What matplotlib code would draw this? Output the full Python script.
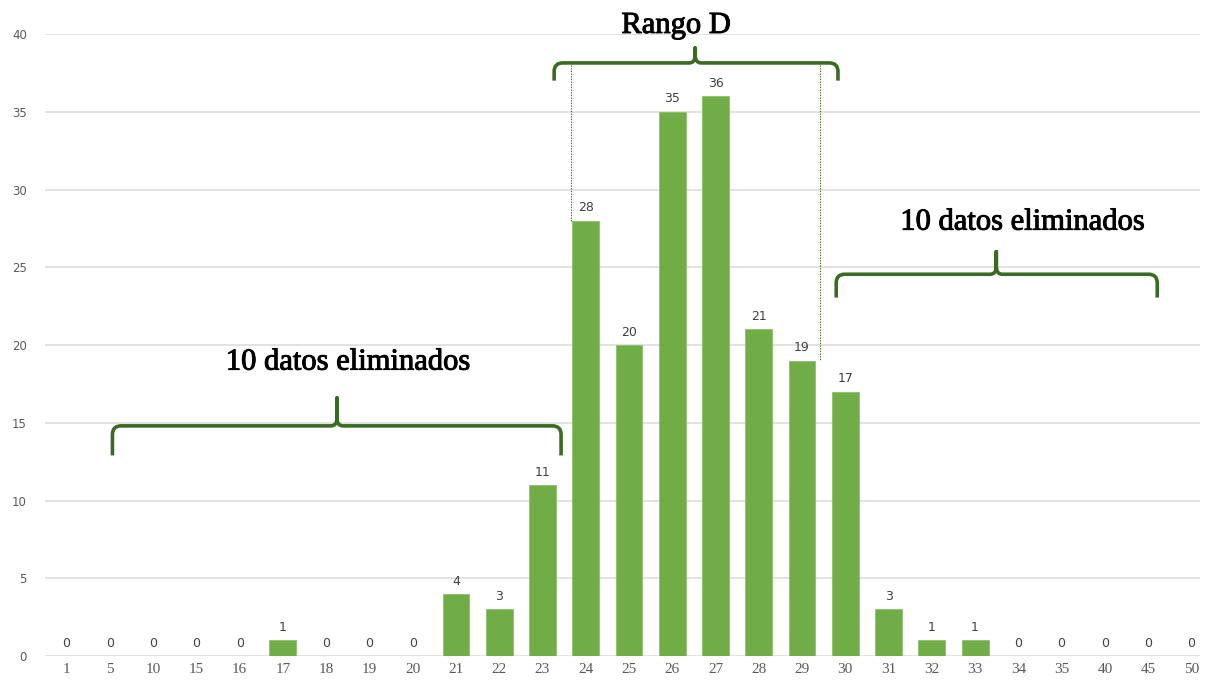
import matplotlib
matplotlib.use("Agg")
import matplotlib.pyplot as plt
import matplotlib.patheffects as pe
from matplotlib.path import Path
from matplotlib.patches import PathPatch

# Frequency of each class
categories = ["1", "5", "10", "15", "16", "17", "18", "19", "20", "21", "22", "23", "24",
              "25", "26", "27", "28", "29", "30", "31", "32", "33", "34", "35", "40", "45", "50"]
counts = [0, 0, 0, 0, 0, 1, 0, 0, 0, 4, 3, 11, 28, 20, 35, 36, 21, 19, 17, 3, 1, 1, 0, 0, 0, 0, 0]
y_ticks = [0, 5, 10, 15, 20, 25, 30, 35, 40]

range_label = "Rango D"
removed_label = "10 datos eliminados"

BAR_COLOR = "#70AD47"
BRACE_COLOR = "#3A6B22"
GRID_COLOR = "#DDDDDD"
BAR_WIDTH = 0.62

fig = plt.figure(figsize=(12.05, 6.84), dpi=100)
ax = fig.add_axes([0.0373, 0.0409, 0.9586, 0.9094])

x = list(range(len(categories)))
ax.bar(x, counts, width=BAR_WIDTH, color=BAR_COLOR, edgecolor="#8CC168",
       linewidth=0.6, zorder=3)

for xi, v in zip(x, counts):
    ax.annotate(str(v), (xi, v), xytext=(0, 4.5), textcoords="offset points",
                ha="center", va="bottom", fontsize=9, color="#404040",
                family="DejaVu Sans")

ax.set_xlim(-0.5, 26.2)
ax.set_ylim(0, 40)
ax.set_yticks(y_ticks)
ax.set_yticklabels([str(t) for t in y_ticks], fontsize=8.5, color="#595959",
                   family="DejaVu Sans")
ax.set_xticks(x)
ax.set_xticklabels(categories, fontsize=11, color="#595959", family="Liberation Serif")
ax.tick_params(length=0)
ax.tick_params(axis="y", pad=13)
ax.tick_params(axis="x", pad=5)
ax.grid(axis="y", color=GRID_COLOR, linewidth=1.2, zorder=0)
for s in ax.spines.values():
    s.set_visible(False)


def brace(ax, x0, x1, xc, y_line, y_end, y_tip, dx=0.2, dy=0.55):
    """Curly bracket opening downward, with its point at (xc, y_tip)."""
    verts = [
        (x0, y_end),
        (x0, y_line - dy),
        (x0, y_line), (x0 + dx, y_line),
        (xc - dx * 0.7, y_line),
        (xc, y_line), (xc, y_line + dy * 0.9),
        (xc, y_tip),
        (xc, y_line + dy * 0.9),
        (xc, y_line), (xc + dx * 0.7, y_line),
        (x1 - dx, y_line),
        (x1, y_line), (x1, y_line - dy),
        (x1, y_end),
    ]
    codes = [Path.MOVETO, Path.LINETO, Path.CURVE3, Path.CURVE3, Path.LINETO,
             Path.CURVE3, Path.CURVE3, Path.LINETO, Path.LINETO,
             Path.CURVE3, Path.CURVE3, Path.LINETO, Path.CURVE3, Path.CURVE3, Path.LINETO]
    ax.add_patch(PathPatch(Path(verts, codes), facecolor="none", edgecolor=BRACE_COLOR,
                           linewidth=2.6, capstyle="butt", joinstyle="round",
                           clip_on=False, zorder=5))


text_style = dict(ha="center", va="center", fontsize=22, family="Liberation Serif",
                  color="#000000", clip_on=False, zorder=6,
                  path_effects=[pe.withStroke(linewidth=0.7, foreground="#000000")])

# Range kept
brace(ax, 11.27, 17.83, 14.53, 38.14, 37.0, 39.1)
ax.text(14.09, 40.55, range_label, **text_style)
ax.plot([11.65, 11.65], [38.0, counts[12]], color=BRACE_COLOR, linestyle=(0, (1.2, 1.2)),
        linewidth=0.8, zorder=4)
ax.plot([17.41, 17.41], [38.0, counts[17]], color=BRACE_COLOR, linestyle=(0, (1.2, 1.2)),
        linewidth=0.8, zorder=4)

# Discarded on the right
brace(ax, 17.79, 25.21, 21.49, 24.55, 23.05, 26.0)
ax.text(22.09, 27.9, removed_label, **text_style)

# Discarded on the left
brace(ax, 1.06, 11.43, 6.25, 14.8, 12.9, 16.6)
ax.text(6.5, 18.9, removed_label, **text_style)

fig.savefig("out.png", dpi=100, facecolor="white")
